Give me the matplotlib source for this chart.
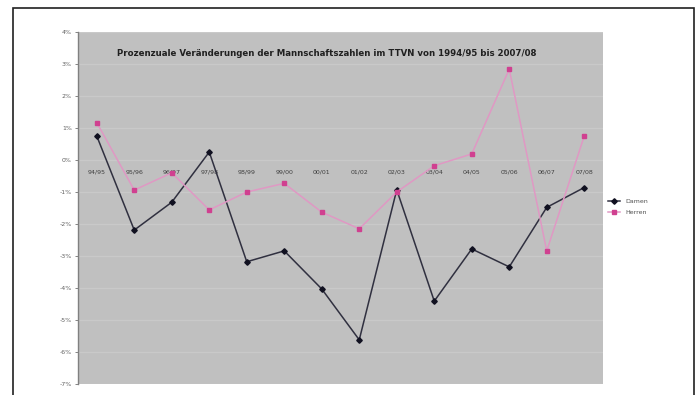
import matplotlib.pyplot as plt
from matplotlib.patches import Rectangle

# Saisons und prozentuale Veränderung der Mannschaftszahlen
seasons = ['94/95', '95/96', '96/97', '97/98', '98/99', '99/00', '00/01',
           '01/02', '02/03', '03/04', '04/05', '05/06', '06/07', '07/08']
damen = [0.75, -2.19, -1.32, 0.25, -3.18, -2.84, -4.03,
         -5.62, -0.93, -4.41, -2.78, -3.34, -1.48, -0.86]
herren = [1.17, -0.94, -0.40, -1.56, -1.00, -0.73, -1.63,
          -2.15, -1.00, -0.18, 0.19, 2.84, -2.84, 0.75]
yticks = list(range(-7, 5))

fig = plt.figure(figsize=(6.99, 3.95), dpi=100)
fig.patch.set_facecolor('white')

# Rahmen um das ganze Diagramm
fig.patches.append(Rectangle((13 / 699, -0.05), 681 / 699, 1.05 - 8 / 395,
                             transform=fig.transFigure, fill=False,
                             edgecolor='#202020', linewidth=1.2))

ax = fig.add_axes([78 / 699, 1 - 384 / 395, 525 / 699, 352 / 395])
ax.set_facecolor('#c0c0c0')

x = list(range(len(seasons)))
ax.plot(x, damen, color='#303040', linewidth=1.1, marker='D',
        markersize=2.8, markerfacecolor='#101020', markeredgecolor='#101020',
        label='Damen', zorder=3)
ax.plot(x, herren, color='#e098c4', linewidth=1.1, marker='s',
        markersize=2.8, markerfacecolor='#d04090', markeredgecolor='#d04090',
        label='Herren', zorder=3)

ax.set_xlim(-0.5, len(seasons) - 0.5)
ax.set_ylim(-7, 4)
ax.set_yticks(yticks)
ax.set_yticklabels([f'{t}%' for t in yticks], fontsize=4.5, color='#606060')
ax.tick_params(axis='y', length=2.5, width=0.6, color='#707070', pad=2)
ax.set_xticks([])

for s in ['top', 'right', 'bottom']:
    ax.spines[s].set_visible(False)
ax.spines['left'].set_color('#808080')
ax.spines['left'].set_linewidth(1.0)

ax.grid(axis='y', color='#c9c9c9', linewidth=1.0)
ax.set_axisbelow(True)

# Kategorienbeschriftung direkt unter der Nulllinie
for xi, lab in zip(x, seasons):
    ax.text(xi, -0.38, lab, ha='center', va='center', fontsize=4.5,
            color='#404040', zorder=2,
            bbox=dict(boxstyle='square,pad=0.15', facecolor='#c0c0c0',
                      edgecolor='none'))

ax.text(0.474, 0.94, 'Prozenzuale Veränderungen der Mannschaftszahlen im TTVN '
        'von 1994/95 bis 2007/08', transform=ax.transAxes, ha='center',
        va='center', fontsize=6.2, fontweight='bold', color='#202020')

leg = fig.legend(loc='upper left', bbox_to_anchor=(605 / 699, 1 - 196 / 395),
                 fontsize=4.5, frameon=False, handlelength=2.0,
                 labelcolor='#505050', borderaxespad=0, labelspacing=0.9)

fig.savefig('out.png', dpi=100)
